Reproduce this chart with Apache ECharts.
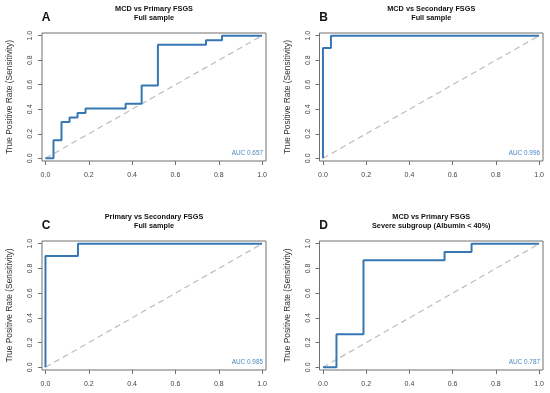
<!DOCTYPE html>
<html><head><meta charset="utf-8">
<script src="https://cdn.jsdelivr.net/npm/echarts@6/dist/echarts.min.js"></script>
<style>html,body{margin:0;padding:0;background:#fff}#c{width:550px;height:393px}</style>
</head><body><div id="c"></div>
<script>
const panelLetters = ['A', 'B', 'C', 'D'];
const titleLine1 = ['MCD vs Primary FSGS', 'MCD vs Secondary FSGS', 'Primary vs Secondary FSGS', 'MCD vs Primary FSGS'];
const titleLine2 = ['Full sample', 'Full sample', 'Full sample', 'Severe subgroup (Albumin < 40%)'];
const aucLabels = ['AUC 0.657', 'AUC 0.996', 'AUC 0.985', 'AUC 0.787'];
const tickValues = [0, 0.2, 0.4, 0.6, 0.8, 1.0];
const yAxisTitle = 'True Positive Rate (Sensitivity)';

const fprA = [0, 0.037, 0.037, 0.074, 0.074, 0.111, 0.111, 0.148, 0.148, 0.185, 0.185, 0.370, 0.370, 0.444, 0.444, 0.519, 0.519, 0.741, 0.741, 0.815, 0.815, 1];
const tprA = [0, 0, 0.148, 0.148, 0.296, 0.296, 0.333, 0.333, 0.370, 0.370, 0.407, 0.407, 0.444, 0.444, 0.593, 0.593, 0.926, 0.926, 0.963, 0.963, 1, 1];
const fprB = [0, 0, 0.037, 0.037, 1];
const tprB = [0, 0.9, 0.9, 1, 1];
const fprC = [0, 0, 0.15, 0.15, 1];
const tprC = [0, 0.9, 0.9, 1, 1];
const fprD = [0, 0.0625, 0.0625, 0.1875, 0.1875, 0.5625, 0.5625, 0.6875, 0.6875, 1];
const tprD = [0, 0, 0.267, 0.267, 0.867, 0.867, 0.933, 0.933, 1, 1];
const chanceX = [0, 1];
const chanceY = [0, 1];

const fprs = [fprA, fprB, fprC, fprD];
const tprs = [tprA, tprB, tprC, tprD];

const grids = [
  {left: 42, top: 33, width: 224, height: 128},
  {left: 319.5, top: 33, width: 223.5, height: 128},
  {left: 42, top: 241, width: 224, height: 129},
  {left: 319.5, top: 241, width: 223.5, height: 129}
];
const FONT = '"Liberation Sans", Arial, Helvetica, sans-serif';
const rocColor = '#3677b3';
const gray = '#707070';

const option = {
  animation: false,
  backgroundColor: '#fff',
  grid: grids.map(g => Object.assign({show: true, borderColor: gray, borderWidth: 1, backgroundColor: 'transparent', containLabel: false}, g)),
  xAxis: grids.map((g, i) => ({
    type: 'value', gridIndex: i, min: -0.016, max: 1.018,
    axisLine: {show: false, onZero: false},
    splitLine: {show: false},
    axisTick: {show: true, customValues: tickValues, length: 4, lineStyle: {color: gray}},
    axisLabel: {customValues: tickValues, formatter: v => v.toFixed(1), fontSize: 7, color: '#444', fontFamily: FONT, margin: 11}
  })),
  yAxis: grids.map((g, i) => ({
    type: 'value', gridIndex: i, min: -0.022, max: 1.022,
    axisLine: {show: false, onZero: false},
    splitLine: {show: false},
    axisTick: {show: true, customValues: tickValues, length: 4, lineStyle: {color: gray}},
    axisLabel: {customValues: tickValues, formatter: v => v.toFixed(1), fontSize: 7, color: '#444', fontFamily: FONT, margin: 8, rotate: 90},
    name: yAxisTitle, nameLocation: 'middle', nameRotate: 90, nameGap: 28,
    nameTextStyle: {fontSize: 8.4, color: '#333', fontFamily: FONT}
  })),
  series: [],
  graphic: []
};

for (let i = 0; i < 4; i++) {
  option.series.push({
    type: 'line', xAxisIndex: i, yAxisIndex: i, symbol: 'none', silent: true,
    data: chanceX.map((x, k) => [x, chanceY[k]]),
    lineStyle: {color: '#bdbdbd', width: 1.2, type: [6, 4]}, z: 2
  });
  option.series.push({
    type: 'line', xAxisIndex: i, yAxisIndex: i, symbol: 'none', silent: true,
    data: fprs[i].map((x, k) => [x, tprs[i][k]]),
    lineStyle: {color: rocColor, width: 2}, z: 3
  });
  const g = grids[i];
  const cx = g.left + g.width / 2;
  option.graphic.push({
    type: 'text', x: cx, y: g.top - 24.5,
    style: {text: titleLine1[i], font: 'bold 7.3px ' + FONT, fill: '#111', align: 'center', verticalAlign: 'middle', textAlign: 'center', textVerticalAlign: 'middle'}
  });
  option.graphic.push({
    type: 'text', x: cx, y: g.top - 15.5,
    style: {text: titleLine2[i], font: 'bold 7.3px ' + FONT, fill: '#111', align: 'center', verticalAlign: 'middle', textAlign: 'center', textVerticalAlign: 'middle'}
  });
  option.graphic.push({
    type: 'text', x: g.left + 4, y: g.top - 15,
    style: {text: panelLetters[i], font: 'bold 12px ' + FONT, fill: '#111', align: 'center', verticalAlign: 'middle', textAlign: 'center', textVerticalAlign: 'middle'}
  });
  option.graphic.push({
    type: 'text', x: g.left + g.width - 3, y: g.top + g.height - 7.5,
    style: {text: aucLabels[i], font: '6.4px ' + FONT, fill: '#4a88c2', align: 'right', verticalAlign: 'middle', textAlign: 'right', textVerticalAlign: 'middle'}
  });
}

const chart = echarts.init(document.getElementById('c'), null, {renderer: 'canvas'});
chart.setOption(option);
</script>
</body></html>
